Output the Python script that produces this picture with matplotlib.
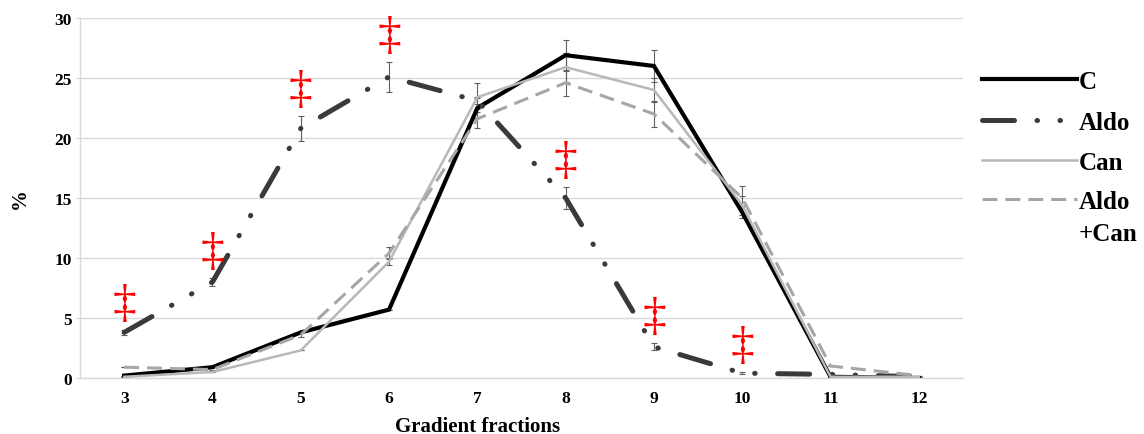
import matplotlib.pyplot as plt
import numpy as np
from matplotlib.lines import Line2D

plt.rcParams['font.family'] = ['Liberation Serif', 'DejaVu Serif']
plt.rcParams['font.weight'] = 'bold'

# gradient fractions and % of total per fraction
fractions = [3, 4, 5, 6, 7, 8, 9, 10, 11, 12]
c_vals = [0.2, 0.9, 3.8, 5.7, 22.5, 26.9, 26.0, 13.8, 0.1, 0.0]
aldo_vals = [3.8, 8.0, 20.8, 25.1, 23.1, 15.0, 2.6, 0.4, 0.3, 0.1]
can_vals = [0.1, 0.5, 2.3, 9.7, 23.4, 25.9, 24.0, 14.4, 0.1, 0.1]
aldo_can_vals = [0.9, 0.7, 3.6, 10.4, 21.6, 24.6, 22.0, 15.0, 1.0, 0.2]

# standard errors
c_err = [0, 0, 0, 0, 0.8, 1.3, 1.3, 0.5, 0, 0]
aldo_err = [0.2, 0.3, 1.05, 1.25, 0.3, 0.9, 0.3, 0.1, 0, 0]
can_err = [0, 0, 0, 0.3, 1.2, 1.2, 1.0, 0.8, 0, 0]
aldo_can_err = [0, 0, 0.2, 0.5, 0.8, 1.1, 1.1, 1.0, 0, 0]

# fractions where Aldo differs significantly
sig_fractions = [3, 4, 5, 6, 8, 9, 10]

labels = ['C', 'Aldo', 'Can', 'Aldo\n+Can']

fig = plt.figure(figsize=(11.44, 4.35), dpi=100)
ax = fig.add_axes([80 / 1144, 56 / 435, 883 / 1144, 360 / 435])

styles = [
    dict(color='#000000', lw=3.0, ls='-'),
    dict(color='#3a3a3a', lw=3.6, ls=(0, (6.4, 4.5, 0.1, 4.5, 0.1, 4.5)),
         dash_capstyle='round'),
    dict(color='#b8b8b8', lw=1.8, ls='-'),
    dict(color='#a6a6a6', lw=2.2, ls=(0, (4.9, 2.6)), dash_capstyle='butt'),
]
series = [c_vals, aldo_vals, can_vals, aldo_can_vals]
errors = [c_err, aldo_err, can_err, aldo_can_err]

for vals, err, st in zip(series, errors, styles):
    ax.errorbar(fractions, vals, yerr=err, fmt='none', ecolor='#606060',
                elinewidth=0.8, capsize=2.5, capthick=0.8, zorder=2)
    ax.plot(fractions, vals, solid_joinstyle='miter', zorder=3, **st)

# significance marks above the Aldo curve
for f in sig_fractions:
    i = fractions.index(f)
    ax.text(f, aldo_vals[i] + aldo_err[i] + 2.1, '‡', color='#ff0000',
            fontsize=34, ha='center', va='center', fontweight='normal')

ax.set_xlim(2.5, 12.5)
ax.set_ylim(0, 30)
ax.set_xticks(fractions)
ax.set_yticks(np.arange(0, 31, 5))
ax.grid(axis='y', color='#d9d9d9', lw=1.0)
ax.set_axisbelow(True)
for side in ['top', 'right']:
    ax.spines[side].set_visible(False)
ax.spines['left'].set_color('#d9d9d9')
ax.spines['bottom'].set_color('#d9d9d9')
ax.spines['left'].set_linewidth(1.0)
ax.spines['bottom'].set_linewidth(1.0)
ax.tick_params(axis='y', length=3, color='#d9d9d9', pad=3, labelsize=12.5)
ax.tick_params(axis='x', length=0, pad=9, labelsize=12.5)

ax.set_xlabel('Gradient fractions', fontsize=15, fontweight='bold', va='center')
ax.xaxis.set_label_coords(0.45, -48 / 360)
ax.set_ylabel('%', fontsize=15, fontweight='bold', va='center')
ax.yaxis.set_label_coords(-60 / 883, 0.5)

# legend drawn by hand so the line sits at the first text line
leg_y = [80, 121, 161, 200]
for lab, st, y in zip(labels, styles, leg_y):
    yf = 1 - y / 435
    fig.add_artist(Line2D([982 / 1144, 1077 / 1144], [yf, yf],
                          transform=fig.transFigure, **st))
    for k, line in enumerate(lab.split('\n')):
        fig.text(1079 / 1144, 1 - (y + 32 * k) / 435, line, fontsize=18,
                 va='center_baseline', ha='left')

fig.savefig('out.png', dpi=100)
